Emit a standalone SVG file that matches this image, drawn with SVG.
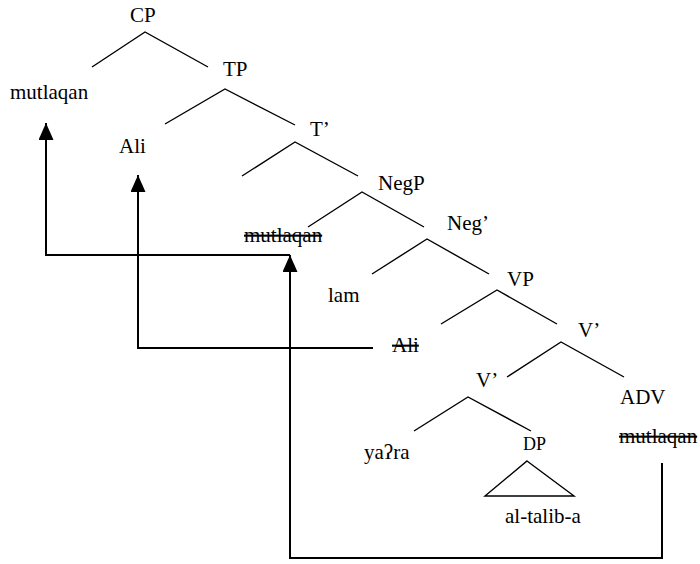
<svg xmlns="http://www.w3.org/2000/svg" width="700" height="564" viewBox="0 0 700 564">
  <style>
    text { font-family: "Liberation Serif", "Tinos", "DejaVu Serif", serif; font-size: 21px; fill: #000; }
    .small { font-size: 18px; }
    .trace { text-decoration: line-through; }
    .branch { stroke: #000; stroke-width: 1.4; fill: none; }
    .move { stroke: #000; stroke-width: 2; fill: none; }
  </style>
  <defs>
    <!-- filled arrowhead, drawn along +x so orient="auto" points it along the path -->
    <marker id="head" viewBox="0 0 17 15" refX="17" refY="7.5" markerWidth="17" markerHeight="15" markerUnits="userSpaceOnUse" orient="auto">
      <path d="M0 0 L17 7.5 L0 15 Z" fill="#000"/>
    </marker>
  </defs>

  <rect width="700" height="564" fill="#fff"/>

  <!-- tree branches -->
  <g id="branches">
    <polyline class="branch" points="92,67 145,32 208,67"/>
    <polyline class="branch" points="165,124 225,89 295,125"/>
    <polyline class="branch" points="242,176 295,142 358,176"/>
    <polyline class="branch" points="308,227 362,192 424,227"/>
    <polyline class="branch" points="372,274 427,239 489,274"/>
    <polyline class="branch" points="441,324 497,290 557,324"/>
    <polyline class="branch" points="507,377 561,342 624,377"/>
    <polyline class="branch" points="414,431 468,397 531,431"/>
    <polygon class="branch" points="527,461 574,496 485,496"/>
  </g>

  <!-- nodes -->
  <g id="cp"><text x="130" y="22">CP</text></g>
  <g id="mutlaqan-spec-cp"><text x="10" y="99">mutlaqan</text></g>
  <g id="tp"><text x="223" y="76">TP</text></g>
  <g id="ali-spec-tp"><text x="119" y="153">Ali</text></g>
  <g id="t-bar"><text x="310" y="136">T’</text></g>
  <g id="negp"><text x="378" y="190">NegP</text></g>
  <g id="mutlaqan-spec-negp"><text class="trace" x="244" y="242">mutlaqan</text></g>
  <g id="neg-bar"><text x="447" y="230">Neg’</text></g>
  <g id="lam"><text x="328" y="302">lam</text></g>
  <g id="vp"><text x="507" y="286">VP</text></g>
  <g id="ali-spec-vp"><text class="trace" x="392" y="352">Ali</text></g>
  <g id="v-bar-upper"><text x="578" y="337">V’</text></g>
  <g id="v-bar-lower"><text x="476" y="387">V’</text></g>
  <g id="adv"><text x="620" y="404">ADV</text></g>
  <g id="mutlaqan-adv"><text class="trace" x="619" y="443">mutlaqan</text></g>
  <g id="verb"><text x="364" y="459">yaʔra</text></g>
  <g id="dp"><text class="small" x="523" y="450">DP</text></g>
  <g id="object"><text x="505" y="523">al-talib-a</text></g>

  <!-- movement connectors -->
  <g id="connectors">
    <polyline class="move" points="662,463 662,558 290,558 290,255" marker-end="url(#head)"/>
    <polyline class="move" points="290,255 46,255 46,123" marker-end="url(#head)"/>
    <polyline class="move" points="373,348 138,348 138,175" marker-end="url(#head)"/>
  </g>
</svg>
